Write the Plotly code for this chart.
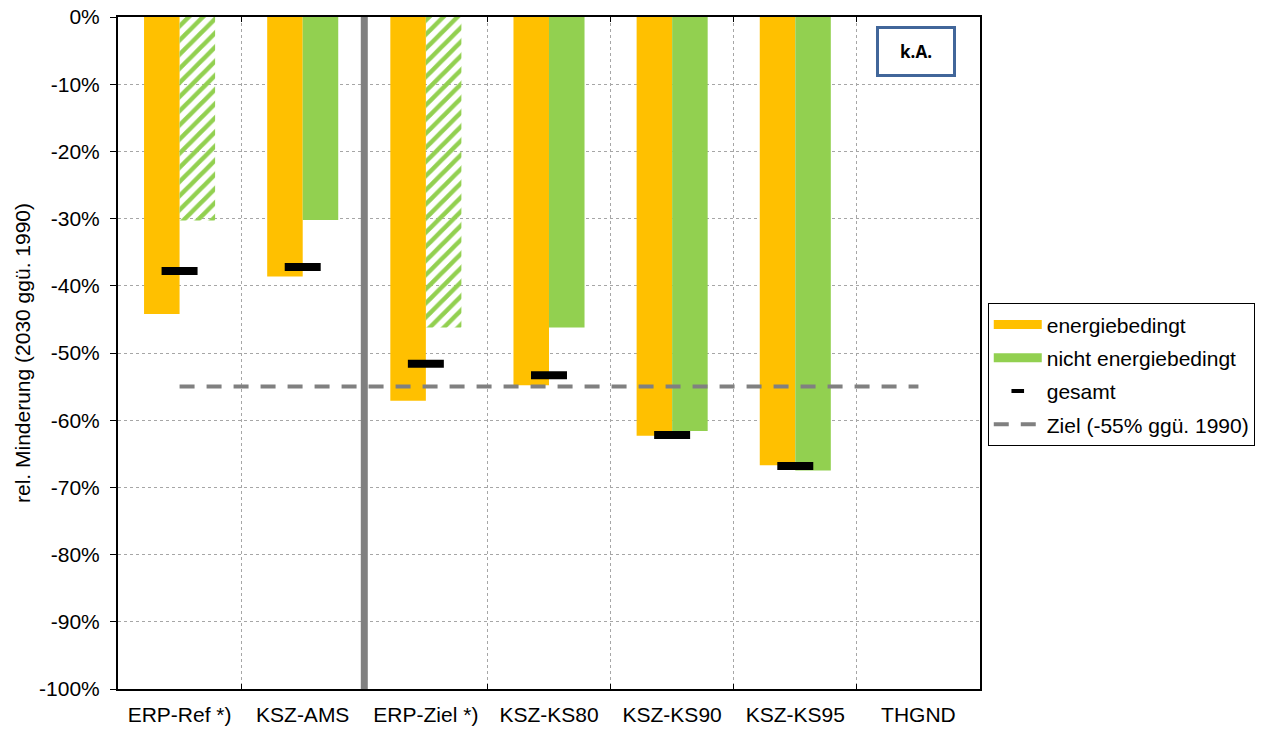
import plotly.graph_objects as go

categories = ["ERP-Ref *)", "KSZ-AMS", "ERP-Ziel *)", "KSZ-KS80", "KSZ-KS90", "KSZ-KS95", "THGND"]
energiebedingt = [-44.2, -38.6, -57.1, -54.8, -62.3, -66.7, None]
nicht_energiebedingt = [-30.3, -30.2, -46.2, -46.2, -61.6, -67.5, None]
nicht_hatched = [True, False, True, False, False, False, False]
gesamt = [-37.8, -37.2, -51.6, -53.3, -62.2, -66.8, None]
ziel = -55
ytick_vals = [0, -10, -20, -30, -40, -50, -60, -70, -80, -90, -100]
ytick_text = ["0%", "-10%", "-20%", "-30%", "-40%", "-50%", "-60%", "-70%", "-80%", "-90%", "-100%"]

ORANGE = "#FFC000"
GREEN = "#92D050"
GRAY = "#808080"
FONT = "Arial, Liberation Sans, sans-serif"

fig = go.Figure()

fig.add_trace(go.Bar(
    x=categories, y=energiebedingt, name="energiebedingt",
    marker=dict(color=ORANGE, line=dict(width=0)), showlegend=False,
))
fig.add_trace(go.Bar(
    x=categories, y=nicht_energiebedingt, name="nicht energiebedingt",
    marker=dict(color=GREEN, line=dict(width=0),
                pattern=dict(shape=["/" if h else "" for h in nicht_hatched],
                             size=10, solidity=0.45, fillmode="replace")),
    showlegend=False,
))

# legend-only swatches
fig.add_trace(go.Scatter(x=[None], y=[None], mode="lines", name="energiebedingt",
                         legendgroup="a", line=dict(color=ORANGE, width=9)))
fig.add_trace(go.Scatter(x=[None], y=[None], mode="lines", name="nicht energiebedingt",
                         legendgroup="b", line=dict(color=GREEN, width=9)))
fig.add_trace(go.Scatter(x=[None], y=[None], mode="markers", name="gesamt",
                         legendgroup="c",
                         marker=dict(symbol="line-ew", size=9, color="black",
                                     line=dict(width=4, color="black"))))

fig.add_trace(go.Scatter(
    x=categories, y=gesamt, mode="markers", name="gesamt", legendgroup="c",
    showlegend=False,
    marker=dict(symbol="line-ew", size=25.7, color="black",
                line=dict(width=8, color="black")),
))
fig.add_trace(go.Scatter(
    x=[categories[0], categories[-1]], y=[ziel, ziel], mode="lines",
    name="Ziel (-55% ggü. 1990)", legendgroup="d",
    line=dict(color=GRAY, width=4, dash="15px,12px"),
))

fig.add_shape(type="line", xref="x", yref="paper", x0=1.5, x1=1.5, y0=0, y1=1,
              line=dict(color=GRAY, width=7))

fig.add_annotation(
    text="<b>k.A.</b>", xref="paper", yref="paper", x=0.9258, y=0.9487,
    xanchor="center", yanchor="middle",
    showarrow=False, width=70, height=41, borderpad=2, borderwidth=3,
    bordercolor="#41669A", bgcolor="white",
    font=dict(family="Open Sans, sans-serif", size=17, color="black"),
)

fig.update_layout(
    width=1263, height=731,
    margin=dict(l=118, r=283, t=17, b=42, autoexpand=False),
    paper_bgcolor="white", plot_bgcolor="white",
    barmode="group", bargap=0.423, bargroupgap=0,
    font=dict(family=FONT, size=21, color="black"),
    legend=dict(
        x=1.009, y=0.574, xanchor="left", yanchor="top",
        bordercolor="black", borderwidth=1, bgcolor="white",
        font=dict(family=FONT, size=21, color="black"),
        itemwidth=48, tracegroupgap=3,
    ),
    xaxis=dict(
        type="category", tickson="boundaries", ticks="inside", ticklen=5,
        tickcolor="black", showline=True, linecolor="black", linewidth=2,
        mirror="ticks", showgrid=True, gridcolor="#A6A6A6", griddash="dot",
        gridwidth=1, tickfont=dict(size=21), range=[-0.5, 6.5],
        ticklabelstandoff=6, automargin=False,
    ),
    yaxis=dict(
        range=[-100, 0], tickvals=ytick_vals, ticktext=ytick_text,
        ticks="outside", ticklen=6, tickcolor="black",
        showline=True, linecolor="black", linewidth=2, mirror=True,
        showgrid=True, gridcolor="#A6A6A6", griddash="dot", gridwidth=1,
        zeroline=False, ticklabelstandoff=6, automargin=False,
        title=dict(text="rel. Minderung (2030 ggü. 1990)", font=dict(size=21), standoff=3),
    ),
)

fig.write_html("out.html")
